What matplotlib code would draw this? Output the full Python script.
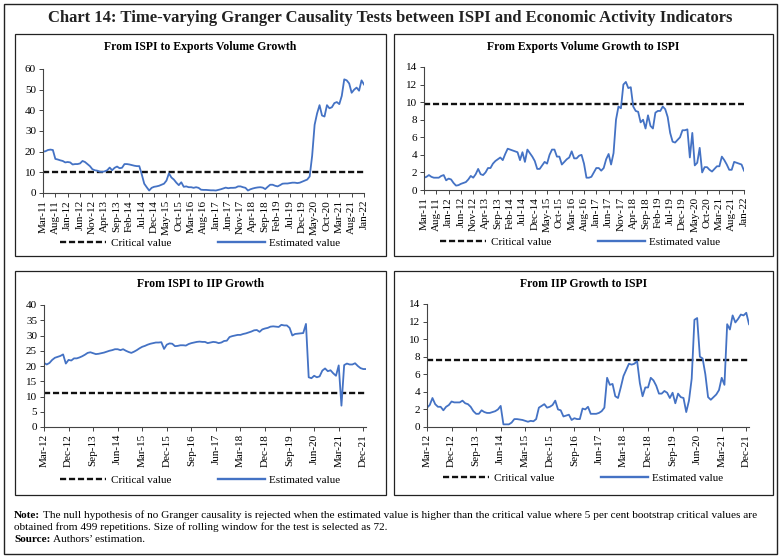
import matplotlib as mpl
import matplotlib.pyplot as plt
import pandas as pd
from matplotlib.lines import Line2D
from matplotlib.patches import Rectangle

mpl.use('Agg')

plt.rcParams['font.family'] = ['Liberation Serif', 'DejaVu Serif']

# --- data (monthly values) ---
exp_start = '2011-03'
iip_start = '2012-03'

ispi_to_exports = [
    20.0, 20.2, 20.8, 21.0, 20.8, 16.5, 16.2, 15.8, 15.5, 14.8,
    15.0, 14.8, 13.8, 14.0, 14.0, 14.3, 15.5, 15.0, 14.0, 13.0,
    11.5, 11.0, 10.8, 10.3, 10.2, 10.5, 11.0, 12.3, 11.0, 12.2,
    12.8, 12.0, 12.2, 14.0, 14.0, 13.8, 13.5, 13.2, 13.0, 13.0,
    9.0, 4.5, 2.8, 1.2, 2.5, 3.0, 3.2, 3.5, 4.0, 4.5,
    6.0, 9.5, 7.5, 6.5, 5.0, 3.8, 5.2, 3.0, 3.2, 2.8,
    2.8, 2.5, 2.8, 2.5, 1.6, 1.5, 1.5, 1.4, 1.3, 1.3,
    1.2, 1.5, 1.8, 2.2, 2.6, 2.3, 2.5, 2.5, 2.6, 3.2,
    3.2, 2.8, 2.5, 1.2, 1.8, 2.2, 2.5, 2.7, 2.8, 2.6,
    1.9, 3.0, 4.0, 4.0, 3.5, 3.2, 3.8, 4.5, 4.6, 4.6,
    4.8, 5.0, 5.0, 4.8, 5.0, 5.5, 6.0, 6.5, 8.0, 18.0,
    33.0, 38.5, 42.5, 37.5, 37.0, 42.5, 41.0, 41.5, 43.5, 44.0,
    43.0, 47.0, 55.0, 54.5, 53.0, 48.5, 50.0, 51.0, 49.5, 54.5,
    52.5,
]

exports_to_ispi = [
    1.4, 1.5, 1.7, 1.5, 1.4, 1.4, 1.4, 1.6, 1.7, 1.1,
    1.3, 1.2, 0.8, 0.5, 0.55, 0.7, 0.8, 0.9, 1.2, 1.6,
    1.4, 1.8, 2.4, 1.8, 1.7, 2.0, 2.5, 2.5, 3.0, 3.3,
    3.5, 3.7, 3.4, 4.1, 4.7, 4.6, 4.5, 4.4, 4.3, 3.4,
    4.3, 3.2, 4.6, 4.2, 3.8, 3.3, 2.4, 2.4, 2.8, 3.2,
    3.0, 4.0, 4.6, 4.6, 3.8, 3.8, 2.9, 3.2, 3.5, 3.7,
    4.4, 3.6, 3.6, 3.9, 4.0, 3.0, 1.4, 1.4, 1.5, 2.0,
    2.5, 2.5, 2.2, 2.5, 3.5, 4.1, 2.9, 4.2, 8.0, 9.5,
    9.3, 12.0, 12.3, 11.6, 11.7, 9.5, 9.0, 8.9, 7.7, 8.0,
    7.0, 8.5, 7.3, 7.0, 8.8, 9.0, 9.0, 9.5, 9.2, 8.3,
    6.5, 5.5, 5.4, 5.7, 6.0, 6.8, 6.8, 6.9, 3.7, 6.5,
    2.8, 3.1, 4.8, 2.0, 2.6, 2.6, 2.3, 2.1, 2.4, 2.7,
    2.7, 3.8, 3.4, 2.9, 2.3, 2.3, 3.2, 3.1, 3.0, 2.9,
    2.2,
]

ispi_to_iip = [
    21.0, 20.5, 21.0, 22.0, 22.7, 23.0, 23.3, 23.8, 20.8, 22.0,
    21.8, 22.5, 22.5, 22.8, 23.2, 23.7, 24.3, 24.5, 24.2, 23.9,
    24.0, 24.2, 24.4, 24.7, 25.0, 25.2, 25.5, 25.5, 25.2, 25.5,
    25.0, 24.6, 24.3, 24.7, 25.2, 25.8, 26.3, 26.6, 27.0, 27.3,
    27.5, 27.7, 27.7, 27.8, 25.6, 27.0, 27.4, 27.3, 26.5, 26.6,
    26.8, 26.8, 26.7, 27.2, 27.5, 27.7, 27.9, 28.0, 27.9, 27.9,
    27.5, 27.7, 27.9, 27.8, 27.5, 27.7, 28.2, 28.3, 29.5, 29.8,
    30.0, 30.2, 30.2, 30.5, 30.7, 31.0, 31.3, 31.7, 31.8, 31.2,
    32.0, 32.3, 32.5, 32.9, 33.0, 32.9, 32.8, 33.5, 33.3, 33.3,
    32.5, 30.0, 30.5, 30.6, 30.7, 30.8, 33.8, 16.3, 16.0, 16.8,
    16.3, 16.6, 18.5, 19.2, 18.3, 18.6, 17.6, 16.8, 20.2, 7.0,
    20.3, 20.8, 20.5, 20.5, 20.9, 20.0, 19.3, 19.0, 19.0,
]

iip_to_ispi = [
    2.2, 2.5, 3.3, 2.6, 2.3, 2.3, 1.9, 2.3, 2.5, 2.9,
    2.8, 2.8, 2.8, 3.0, 2.7, 2.6, 2.3, 1.8, 1.5, 1.5,
    1.9, 1.7, 1.6, 1.6, 1.7, 1.8, 2.0, 2.4, 0.3, 0.3,
    0.3, 0.5, 0.9, 0.9, 0.85, 0.8, 0.7, 0.6, 0.7, 0.65,
    0.9, 2.2, 2.4, 2.6, 2.2, 2.3, 2.5, 3.0, 2.0, 1.9,
    1.2, 1.3, 1.4, 0.8, 1.0, 0.9, 0.9, 2.1, 2.0, 2.3,
    1.5, 1.5, 1.5, 1.6, 1.8, 2.2, 5.6, 4.8, 4.9, 3.5,
    3.3, 4.5, 5.8, 6.5, 7.2, 7.1, 7.2, 7.5, 5.0, 3.5,
    4.5, 4.5, 5.6, 5.3, 4.7, 3.8, 3.8, 4.1, 3.9, 3.3,
    3.9, 2.7, 3.8, 3.4, 3.3, 1.7, 3.0, 5.5, 12.2, 12.4,
    8.0, 7.8, 6.0, 3.4, 3.1, 3.4, 3.7, 4.2, 5.6, 4.8,
    11.7, 11.1, 12.7, 11.9, 12.3, 12.8, 12.7, 13.0, 11.7,
]

critical = [10.0, 9.8, 11.0, 7.6]
titles = ['From ISPI to Exports Volume Growth', 'From Exports Volume Growth to ISPI',
          'From ISPI to IIP Growth', 'From IIP Growth to ISPI']
ylims = [(60, 10), (14, 2), (40, 5), (14, 2)]

W, H = 781, 558
BLUE = '#4472C4'

fig = plt.figure(figsize=(W / 100, H / 100), dpi=100)


def px(x0, y0, x1, y1):
    # pixel box (top-left origin) -> figure fraction rect
    return [x0 / W, 1 - y1 / H, (x1 - x0) / W, (y1 - y0) / H]


def box(x0, y0, x1, y1, lw=0.9):
    r = px(x0, y0, x1, y1)
    fig.patches.append(Rectangle((r[0], r[1]), r[2], r[3], transform=fig.transFigure,
                                 fill=False, edgecolor='#222222', linewidth=lw))


box(4, 4, 777, 554, lw=1.0)
panels = [(15, 34, 386, 256), (394, 34, 773, 256), (15, 271, 386, 495), (394, 271, 773, 495)]
for p in panels:
    box(*p)

axes_px = [(43, 69, 364, 193), (424, 67, 744, 190), (44, 305, 366, 427), (427, 304, 749, 427)]
series = [ispi_to_exports, exports_to_ispi, ispi_to_iip, iip_to_ispi]
starts = [exp_start, exp_start, iip_start, iip_start]
steps = [5, 5, 9, 9]
legend_pos = [(200, 243), (580, 242), (200, 480), (583, 478)]

for i in range(4):
    ax = fig.add_axes(px(*axes_px[i]))
    vals = series[i]
    months = pd.period_range(starts[i], periods=len(vals), freq='M')
    xs = list(range(len(vals)))
    ax.plot(xs, [critical[i]] * len(vals), color='#111111', lw=1.7, dashes=(2.6, 1.2))
    ax.plot(xs, vals, color=BLUE, lw=1.3)
    ax.set_xlim(0, len(vals) - 1)
    ymax, ystep = ylims[i]
    ax.set_ylim(0, ymax)
    ax.set_yticks(range(0, ymax + 1, ystep))
    ticks = xs[::steps[i]]
    ax.set_xticks(ticks)
    ax.set_xticklabels([months[t].strftime('%b-%y') for t in ticks], rotation=90)
    for s in ['top', 'right']:
        ax.spines[s].set_visible(False)
    for s in ['left', 'bottom']:
        ax.spines[s].set_color('#444444')
        ax.spines[s].set_linewidth(0.8)
    ax.tick_params(labelsize=8, length=3, width=0.7, color='#444444', pad=2)
    p = panels[i]
    fig.text((p[0] + p[2]) / 2 / W, 1 - (p[1] + 13) / H, titles[i], ha='center', va='center',
             fontsize=8.5, fontweight='bold')
    handles = [Line2D([], [], color='#111111', lw=1.7, dashes=(2.6, 1.2)),
               Line2D([], [], color=BLUE, lw=1.7)]
    lx, ly = legend_pos[i]
    ax.legend(handles, ['Critical value', 'Estimated value'], loc='center', ncol=2,
              bbox_to_anchor=(lx / W, 1 - ly / H), bbox_transform=fig.transFigure,
              frameon=False, fontsize=8, handlelength=4.2, columnspacing=4.2, handletextpad=0.4)

fig.text(0.5, 1 - 18 / H, 'Chart 14: Time-varying Granger Causality Tests between ISPI and Economic Activity Indicators',
         ha='center', va='center', fontsize=12, fontweight='bold', color='#222222')

# note and source lines
fs = 8.1
fig.canvas.draw()
rend = fig.canvas.get_renderer()
note_y = [515, 527]
nb = fig.text(14 / W, 1 - note_y[0] / H, 'Note:', fontsize=fs, fontweight='bold', va='center')
fig.canvas.draw()
ext = nb.get_window_extent(rend)
fig.text((ext.x1 + 3) / W, 1 - note_y[0] / H,
         'The null hypothesis of no Granger causality is rejected when the estimated value is higher than the critical value where 5 per cent bootstrap critical values are',
         fontsize=fs, va='center')
fig.text(14 / W, 1 - note_y[1] / H,
         'obtained from 499 repetitions. Size of rolling window for the test is selected as 72.',
         fontsize=fs, va='center')
sb = fig.text(14 / W, 1 - 539 / H, 'Source:', fontsize=fs, fontweight='bold', va='center')
fig.canvas.draw()
ext = sb.get_window_extent(rend)
fig.text((ext.x1 + 3) / W, 1 - 539 / H, 'Authors\u2019 estimation.', fontsize=fs, va='center')

fig.savefig('out.png', dpi=100)
